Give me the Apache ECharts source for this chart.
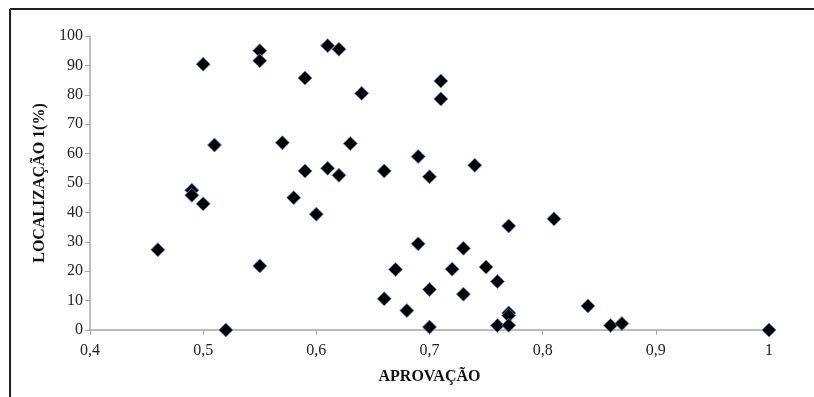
<!DOCTYPE html>
<html>
<head>
<meta charset="utf-8">
<script src="https://cdn.jsdelivr.net/npm/echarts@6/dist/echarts.min.js"></script>
<style>
  html, body { margin: 0; padding: 0; background: #fff; }
  #chart { width: 814px; height: 397px; }
</style>
</head>
<body>
<div id="chart"></div>
<script>
// APROVAÇÃO (x) vs LOCALIZAÇÃO 1 (%) (y)
const aprovacao = [
  0.46, 0.49, 0.49, 0.50, 0.50, 0.51, 0.52, 0.55, 0.55, 0.55,
  0.57, 0.58, 0.59, 0.59, 0.60, 0.61, 0.61, 0.62, 0.62, 0.63,
  0.64, 0.66, 0.66, 0.67, 0.68, 0.69, 0.69, 0.70, 0.70, 0.70,
  0.71, 0.71, 0.72, 0.73, 0.73, 0.74, 0.75, 0.76, 0.76, 0.77,
  0.77, 0.77, 0.77, 0.81, 0.84, 0.86, 0.87, 1.00
];
const localizacao = [
  27.3, 47.5, 45.8, 42.9, 90.4, 62.9, 0.0, 95.0, 91.6, 21.8,
  63.7, 45.0, 85.7, 54.1, 39.4, 96.7, 55.0, 95.5, 52.6, 63.4,
  80.5, 54.1, 10.6, 20.6, 6.6, 59.0, 29.3, 52.1, 13.8, 1.0,
  84.7, 78.6, 20.7, 27.8, 12.2, 56.0, 21.4, 16.5, 1.5, 35.4,
  5.8, 4.9, 1.6, 37.8, 8.2, 1.5, 2.2, 0.0
];

const xTicks = { min: 0.4, max: 1.0, interval: 0.1 };
const yTicks = { min: 0, max: 100, interval: 10 };

const points = aprovacao.map((x, i) => [x, localizacao[i]]);

const chart = echarts.init(document.getElementById("chart"), null, { renderer: "canvas" });

const axisGray = "#a6a6a6";
const font = "'Liberation Serif', 'DejaVu Serif', serif";

chart.setOption({
  backgroundColor: "#fff",
  animation: false,
  textStyle: { fontFamily: font },
  grid: { left: 90, right: 45, top: 36, bottom: 67 },
  graphic: [
    { type: "line", shape: { x1: 10, y1: 9, x2: 814, y2: 9 }, style: { stroke: "#222", lineWidth: 2 } },
    { type: "line", shape: { x1: 10, y1: 9, x2: 10, y2: 397 }, style: { stroke: "#222", lineWidth: 2 } }
  ],
  xAxis: {
    type: "value",
    min: xTicks.min,
    max: xTicks.max,
    interval: xTicks.interval,
    name: "APROVAÇÃO",
    nameLocation: "middle",
    nameGap: 39,
    nameTextStyle: { color: "#111", fontSize: 16, fontWeight: "bold", fontFamily: font },
    splitLine: { show: false },
    axisLine: { show: true, onZero: false, lineStyle: { color: axisGray, width: 1.5 } },
    axisTick: { show: true, length: 5, lineStyle: { color: axisGray } },
    axisLabel: {
      color: "#222",
      fontSize: 16,
      margin: 13,
      fontFamily: font,
      formatter: v => Number(v.toFixed(1)).toString().replace(".", ",")
    }
  },
  yAxis: {
    type: "value",
    min: yTicks.min,
    max: yTicks.max,
    interval: yTicks.interval,
    name: "LOCALIZAÇÃO 1(%)",
    nameLocation: "middle",
    nameGap: 42,
    nameTextStyle: { color: "#111", fontSize: 16, fontWeight: "bold", fontFamily: font },
    splitLine: { show: false },
    axisLine: { show: true, lineStyle: { color: axisGray, width: 1.5 } },
    axisTick: { show: true, length: 5, lineStyle: { color: axisGray } },
    axisLabel: { color: "#222", fontSize: 16, margin: 7, fontFamily: font }
  },
  series: [
    {
      type: "scatter",
      data: points,
      symbol: "diamond",
      symbolSize: 14,
      itemStyle: { color: "#000", opacity: 1, borderColor: "#4f8fd0", borderWidth: 0.8 }
    }
  ]
});
</script>
</body>
</html>
